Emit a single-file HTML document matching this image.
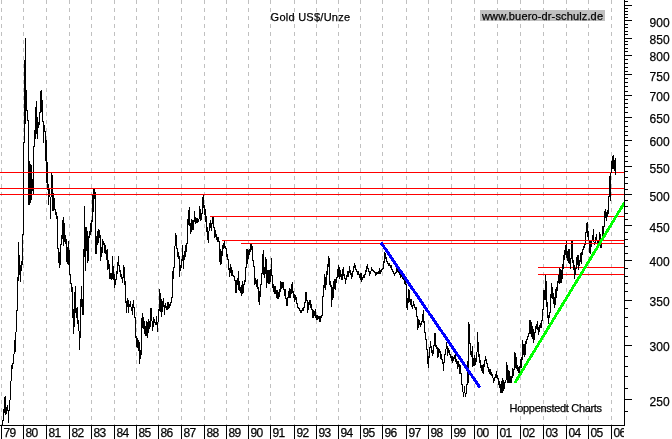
<!DOCTYPE html>
<html><head><meta charset="utf-8"><title>Gold US$/Unze</title>
<style>
html,body{margin:0;padding:0;background:#fff;}
body{width:672px;height:439px;overflow:hidden;position:relative;font-family:"Liberation Sans",sans-serif;}
svg{position:absolute;left:0;top:0;}
text{font-family:"Liberation Sans",sans-serif;font-size:12px;fill:#000;stroke:#000;stroke-width:0.25px;}
</style></head><body>
<svg width="672" height="439" viewBox="0 0 672 439">
<rect width="672" height="439" fill="#fff"/>
<path d="M1.5 0V425M23.5 0V425M46.5 0V425M69.5 0V425M91.5 0V425M114.5 0V425M136.5 0V425M158.5 0V425M181.5 0V425M204.5 0V425M226.5 0V425M248.5 0V425M270.5 0V425M294.5 0V425M316.5 0V425M338.5 0V425M360.5 0V425M382.5 0V425M406.5 0V425M428.5 0V425M451.5 0V425M474.5 0V425M497.5 0V425M520.5 0V425M543.5 0V425M566.5 0V425M588.5 0V425M611.5 0V425" stroke="#c0c0c0" stroke-width="1" stroke-dasharray="4 4" fill="none" shape-rendering="crispEdges"/>
<path d="M538 267.5H624M538 274.5H624" stroke="#ff0000" stroke-width="1" fill="none" shape-rendering="crispEdges"/>
<path d="M2.5 420V425M3.5 409V421M4.5 397V413M5.5 396V415M6.5 407V414M7.5 405V411M8.5 410V423M9.5 400V411M10.5 381V400M11.5 365V381M12.5 363V369M13.5 354V364M14.5 340V354M15.5 332V352M16.5 310V332M17.5 277V311M18.5 242V281M19.5 255V275M20.5 265V282M21.5 261V271M22.5 234V265M23.5 142V235M24.5 60V143M25.5 38V124M26.5 90V111M27.5 110V121M28.5 120V205M29.5 161V205M30.5 164V203M31.5 165V200M32.5 179V191M33.5 146V194M34.5 130V147M35.5 107V139M36.5 101V134M37.5 117V139M38.5 122V128M39.5 112V125M40.5 91V113M41.5 90V112M42.5 100V122M43.5 121V143M44.5 125V132M45.5 131V161M46.5 140V183M47.5 162V190M48.5 184V205M49.5 188V197M50.5 197V219M51.5 173V197M52.5 175V211M53.5 193V211M54.5 198V210M55.5 209V215M56.5 212V219M57.5 216V249M58.5 248V263M59.5 252V268M60.5 244V265M61.5 235V245M62.5 220V239M63.5 217V246M64.5 223V242M65.5 235V244M66.5 239V262M67.5 247V264M68.5 241V265M69.5 250V275M70.5 274V284M71.5 283V292M72.5 287V318M73.5 309V334M74.5 292V327M75.5 286V313M76.5 308V318M77.5 307V324M78.5 320V331M79.5 331V350M80.5 299V338M81.5 286V307M82.5 299V315M83.5 249V315M84.5 206V257M85.5 227V271M86.5 227V251M87.5 231V263M88.5 236V261M89.5 231V238M90.5 223V235M91.5 220V232M92.5 195V222M93.5 189V212M94.5 189V199M95.5 192V254M96.5 236V254M97.5 231V245M98.5 229V243M99.5 230V238M100.5 235V261M101.5 247V257M102.5 239V253M103.5 241V245M104.5 243V253M105.5 245V254M106.5 250V260M107.5 249V270M108.5 260V269M109.5 264V279M110.5 273V279M111.5 273V280M112.5 256V279M113.5 266V280M114.5 274V288M115.5 279V285M116.5 271V280M117.5 262V274M118.5 256V266M119.5 265V272M120.5 270V277M121.5 274V279M122.5 277V283M123.5 265V278M124.5 267V285M125.5 281V303M126.5 301V313M127.5 298V307M128.5 300V313M129.5 304V307M130.5 301V307M131.5 307V311M132.5 304V315M133.5 300V308M134.5 307V318M135.5 317V338M136.5 336V347M137.5 338V348M138.5 340V351M139.5 342V364M140.5 350V359M141.5 318V355M142.5 313V328M143.5 317V329M144.5 321V334M145.5 326V336M146.5 321V336M147.5 322V338M148.5 319V333M149.5 321V329M150.5 308V327M151.5 308V321M152.5 321V331M153.5 317V327M154.5 319V323M155.5 322V325M156.5 316V325M157.5 322V332M158.5 309V322M159.5 289V311M160.5 293V312M161.5 299V317M162.5 301V312M163.5 298V307M164.5 305V315M165.5 303V308M166.5 306V310M167.5 302V310M168.5 302V309M169.5 304V308M170.5 302V306M171.5 297V303M172.5 271V298M173.5 267V279M174.5 246V268M175.5 233V246M176.5 235V249M177.5 248V257M178.5 252V259M179.5 256V277M180.5 265V271M181.5 259V268M182.5 245V261M183.5 255V269M184.5 251V260M185.5 245V257M186.5 243V252M187.5 219V244M188.5 210V225M189.5 207V226M190.5 223V234M191.5 219V232M192.5 220V230M193.5 220V230M194.5 211V222M195.5 217V224M196.5 218V223M197.5 218V223M198.5 219V222M199.5 206V219M200.5 209V221M201.5 213V220M202.5 197V214M203.5 195V208M204.5 205V215M205.5 209V222M206.5 216V232M207.5 227V240M208.5 231V243M209.5 223V231M210.5 220V228M211.5 223V231M212.5 217V224M213.5 217V228M214.5 227V238M215.5 230V237M216.5 234V240M217.5 237V242M218.5 237V242M219.5 241V262M220.5 249V265M221.5 251V264M222.5 245V256M223.5 243V249M224.5 241V248M225.5 246V249M226.5 248V257M227.5 254V260M228.5 259V270M229.5 268V277M230.5 264V273M231.5 267V276M232.5 270V276M233.5 275V277M234.5 276V281M235.5 280V293M236.5 280V293M237.5 278V285M238.5 271V290M239.5 281V291M240.5 287V293M241.5 285V296M242.5 281V294M243.5 284V293M244.5 280V285M245.5 267V282M246.5 249V268M247.5 249V264M248.5 250V259M249.5 249V255M250.5 244V252M251.5 244V250M252.5 246V261M253.5 260V267M254.5 266V285M255.5 278V284M256.5 280V287M257.5 279V289M258.5 287V302M259.5 291V305M260.5 284V297M261.5 273V285M262.5 254V274M263.5 250V275M264.5 267V278M265.5 257V274M266.5 259V288M267.5 270V283M268.5 270V284M269.5 270V284M270.5 269V282M271.5 258V276M272.5 275V288M273.5 284V292M274.5 286V294M275.5 286V294M276.5 290V298M277.5 290V299M278.5 292V299M279.5 289V297M280.5 281V292M281.5 282V289M282.5 282V288M283.5 282V290M284.5 289V296M285.5 289V299M286.5 298V306M287.5 297V306M288.5 291V298M289.5 288V298M290.5 289V298M291.5 284V294M292.5 282V293M293.5 291V298M294.5 294V302M295.5 295V300M296.5 297V304M297.5 303V308M298.5 307V309M299.5 308V311M300.5 310V313M301.5 310V313M302.5 308V311M303.5 307V311M304.5 302V308M305.5 292V303M306.5 292V301M307.5 300V313M308.5 302V310M309.5 300V305M310.5 300V308M311.5 304V310M312.5 309V318M313.5 310V318M314.5 311V316M315.5 309V318M316.5 315V320M317.5 315V320M318.5 316V319M319.5 316V322M320.5 316V322M321.5 315V318M322.5 296V316M323.5 285V297M324.5 274V288M325.5 277V290M326.5 271V285M327.5 264V275M328.5 256V267M329.5 258V285M330.5 281V287M331.5 285V307M332.5 287V300M333.5 281V298M334.5 279V289M335.5 279V290M336.5 277V283M337.5 269V278M338.5 265V277M339.5 267V279M340.5 270V277M341.5 274V280M342.5 269V280M343.5 267V276M344.5 274V279M345.5 278V284M346.5 275V280M347.5 271V277M348.5 271V277M349.5 266V273M350.5 270V275M351.5 273V279M352.5 271V277M353.5 266V272M354.5 263V268M355.5 265V270M356.5 269V272M357.5 271V275M358.5 271V275M359.5 274V278M360.5 273V280M361.5 273V282M362.5 277V280M363.5 275V278M364.5 274V278M365.5 270V275M366.5 266V272M367.5 264V269M368.5 268V272M369.5 271V276M370.5 271V274M371.5 267V271M372.5 269V271M373.5 270V272M374.5 271V273M375.5 272V276M376.5 272V275M377.5 272V274M378.5 271V274M379.5 268V274M380.5 270V274M381.5 269V272M382.5 268V270M383.5 261V269M384.5 252V263M385.5 253V259M386.5 257V262M387.5 261V264M388.5 263V266M389.5 263V266M390.5 265V268M391.5 265V270M392.5 269V272M393.5 271V274M394.5 273V276M395.5 272V274M396.5 268V273M397.5 269V272M398.5 271V273M399.5 272V275M400.5 274V278M401.5 273V277M402.5 275V279M403.5 275V280M404.5 279V284M405.5 281V285M406.5 284V308M407.5 298V310M408.5 289V303M409.5 290V302M410.5 299V305M411.5 299V307M412.5 305V309M413.5 301V306M414.5 304V308M415.5 307V310M416.5 307V317M417.5 316V330M418.5 319V328M419.5 320V325M420.5 323V327M421.5 321V325M422.5 314V322M423.5 310V323M424.5 321V333M425.5 332V340M426.5 339V350M427.5 349V364M428.5 356V368M429.5 347V358M430.5 341V348M431.5 346V353M432.5 350V356M433.5 345V354M434.5 333V346M435.5 333V347M436.5 345V349M437.5 347V358M438.5 348V357M439.5 349V353M440.5 351V359M441.5 354V360M442.5 359V364M443.5 362V371M444.5 354V363M445.5 349V355M446.5 342V349M447.5 346V356M448.5 348V353M449.5 350V355M450.5 354V358M451.5 356V361M452.5 356V363M453.5 357V361M454.5 355V359M455.5 354V362M456.5 359V364M457.5 361V369M458.5 361V367M459.5 364V374M460.5 365V374M461.5 373V385M462.5 384V392M463.5 392V397M464.5 386V393M465.5 393V397M466.5 384V394M467.5 361V385M468.5 322V383M469.5 324V344M470.5 343V355M471.5 351V357M472.5 346V367M473.5 358V366M474.5 355V366M475.5 358V365M476.5 352V362M477.5 332V352M478.5 342V357M479.5 354V363M480.5 360V368M481.5 365V371M482.5 365V373M483.5 364V374M484.5 360V367M485.5 356V361M486.5 359V364M487.5 363V368M488.5 367V372M489.5 369V374M490.5 369V375M491.5 372V376M492.5 374V378M493.5 378V383M494.5 377V381M495.5 374V378M496.5 371V378M497.5 375V379M498.5 378V385M499.5 381V388M500.5 384V393M501.5 381V393M502.5 378V393M503.5 380V391M504.5 382V389M505.5 380V383M506.5 362V380M507.5 365V383M508.5 370V383M509.5 371V383M510.5 376V383M511.5 376V383M512.5 368V378M513.5 369V376M514.5 352V370M515.5 353V368M516.5 357V369M517.5 365V371M518.5 367V373M519.5 366V373M520.5 359V368M521.5 357V368M522.5 340V360M523.5 344V355M524.5 344V357M525.5 341V355M526.5 339V344M527.5 336V340M528.5 333V337M529.5 320V334M530.5 320V334M531.5 322V337M532.5 326V339M533.5 329V343M534.5 332V340M535.5 326V333M536.5 324V329M537.5 321V330M538.5 327V335M539.5 325V332M540.5 323V328M541.5 320V328M542.5 309V321M543.5 290V310M544.5 290V300M545.5 275V300M546.5 281V307M547.5 302V318M548.5 315V324M549.5 312V318M550.5 294V313M551.5 283V298M552.5 287V299M553.5 293V304M554.5 297V308M555.5 289V305M556.5 287V298M557.5 281V291M558.5 275V283M559.5 268V284M560.5 269V283M561.5 270V283M562.5 264V279M563.5 255V269M564.5 250V260M565.5 245V255M566.5 241V258M567.5 251V261M568.5 249V263M569.5 249V264M570.5 258V269M571.5 241V259M572.5 240V263M573.5 260V270M574.5 265V279M575.5 268V275M576.5 257V269M577.5 255V265M578.5 255V270M579.5 260V266M580.5 253V262M581.5 252V264M582.5 249V255M583.5 246V250M584.5 244V248M585.5 232V245M586.5 223V233M587.5 222V237M588.5 231V241M589.5 240V253M590.5 240V254M591.5 240V247M592.5 235V241M593.5 229V242M594.5 242V245M595.5 237V243M596.5 234V240M597.5 240V244M598.5 240V245M599.5 232V240M600.5 234V248M601.5 240V248M602.5 226V241" stroke="#000" stroke-width="1" fill="none" shape-rendering="crispEdges"/>
<path d="M0 172.5H624M0 188.5H624M0 194.5H624M210 216.5H624M222 240.5H624M241 243.5H624" stroke="#ff0000" stroke-width="1" fill="none" shape-rendering="crispEdges"/>
<path d="M603.5 226V234M604.5 211V227M605.5 209V218M606.5 212V221M607.5 210V217M608.5 196V214M609.5 176V197M610.5 173V201M611.5 161V173M612.5 156V169M613.5 155V169M614.5 160V171M615.5 158V175" stroke="#000" stroke-width="1" fill="none" shape-rendering="crispEdges"/>
<svg x="0" y="0" width="624" height="425" viewBox="0 0 624 425">
<path d="M381.0 242.6L480 387.7" stroke="#0000ff" stroke-width="3.0" fill="none" shape-rendering="crispEdges"/>
<path d="M514.8 383L626.2 199.8" stroke="#00ff00" stroke-width="2.8" fill="none" shape-rendering="crispEdges"/>
</svg>
<rect x="480" y="10" width="125" height="11" fill="#c0c0c0"/>
<path d="M624.5 0V426M0 425.5H625M1.5 425V439M23.5 425V439M46.5 425V439M69.5 425V439M91.5 425V439M114.5 425V439M136.5 425V439M158.5 425V439M181.5 425V439M204.5 425V439M226.5 425V439M248.5 425V439M270.5 425V439M294.5 425V439M316.5 425V439M338.5 425V439M360.5 425V439M382.5 425V439M406.5 425V439M428.5 425V439M451.5 425V439M474.5 425V439M497.5 425V439M520.5 425V439M543.5 425V439M566.5 425V439M588.5 425V439M611.5 425V439M625 5.5h7M625 8.5h3M625 11.5h3M625 14.5h3M625 17.5h3M625 20.5h7M625 24.5h3M625 27.5h3M625 31.5h3M625 34.5h3M625 38.5h7M625 41.5h3M625 44.5h3M625 48.5h3M625 51.5h3M625 55.5h7M625 59.5h3M625 63.5h3M625 67.5h3M625 71.5h3M625 74.5h7M625 78.5h3M625 82.5h3M625 86.5h3M625 91.5h3M625 95.5h7M625 99.5h3M625 103.5h3M625 107.5h3M625 112.5h3M625 117.5h7M625 121.5h3M625 126.5h3M625 131.5h3M625 135.5h3M625 140.5h7M625 145.5h3M625 151.5h3M625 156.5h3M625 161.5h3M625 166.5h7M625 171.5h3M625 177.5h3M625 183.5h3M625 189.5h3M625 194.5h7M625 200.5h3M625 206.5h3M625 213.5h3M625 219.5h3M625 225.5h7M625 232.5h3M625 239.5h3M625 246.5h3M625 253.5h3M625 260.5h7M625 268.5h3M625 276.5h3M625 283.5h3M625 291.5h3M625 300.5h7M625 308.5h3M625 317.5h3M625 326.5h3M625 336.5h3M625 345.5h7M625 356.5h3M625 366.5h3M625 376.5h3M625 388.5h3M625 399.5h7M625 411.5h3M625 1.5h3" stroke="#000" stroke-width="1" fill="none" shape-rendering="crispEdges"/>
<g style="opacity:0.999">
<svg x="0" y="426" width="624" height="13" viewBox="0 426 624 13"><text x="3.4" y="437" textLength="12.9" lengthAdjust="spacing">79</text><text x="25.4" y="437" textLength="12.9" lengthAdjust="spacing">80</text><text x="48.4" y="437" textLength="12.9" lengthAdjust="spacing">81</text><text x="71.4" y="437" textLength="12.9" lengthAdjust="spacing">82</text><text x="93.4" y="437" textLength="12.9" lengthAdjust="spacing">83</text><text x="116.4" y="437" textLength="12.9" lengthAdjust="spacing">84</text><text x="138.4" y="437" textLength="12.9" lengthAdjust="spacing">85</text><text x="160.4" y="437" textLength="12.9" lengthAdjust="spacing">86</text><text x="183.4" y="437" textLength="12.9" lengthAdjust="spacing">87</text><text x="206.4" y="437" textLength="12.9" lengthAdjust="spacing">88</text><text x="228.4" y="437" textLength="12.9" lengthAdjust="spacing">89</text><text x="250.4" y="437" textLength="12.9" lengthAdjust="spacing">90</text><text x="272.4" y="437" textLength="12.9" lengthAdjust="spacing">91</text><text x="296.4" y="437" textLength="12.9" lengthAdjust="spacing">92</text><text x="318.4" y="437" textLength="12.9" lengthAdjust="spacing">93</text><text x="340.4" y="437" textLength="12.9" lengthAdjust="spacing">94</text><text x="362.4" y="437" textLength="12.9" lengthAdjust="spacing">95</text><text x="384.4" y="437" textLength="12.9" lengthAdjust="spacing">96</text><text x="408.4" y="437" textLength="12.9" lengthAdjust="spacing">97</text><text x="430.4" y="437" textLength="12.9" lengthAdjust="spacing">98</text><text x="453.4" y="437" textLength="12.9" lengthAdjust="spacing">99</text><text x="476.4" y="437" textLength="12.9" lengthAdjust="spacing">00</text><text x="499.4" y="437" textLength="12.9" lengthAdjust="spacing">01</text><text x="522.4" y="437" textLength="12.9" lengthAdjust="spacing">02</text><text x="545.4" y="437" textLength="12.9" lengthAdjust="spacing">03</text><text x="568.4" y="437" textLength="12.9" lengthAdjust="spacing">04</text><text x="590.4" y="437" textLength="12.9" lengthAdjust="spacing">05</text><text x="613.4" y="437" textLength="12.9" lengthAdjust="spacing">06</text></svg>
<text x="649.6" y="26.8">900</text><text x="649.6" y="43.8">850</text><text x="649.6" y="60.8">800</text><text x="649.6" y="80.8">750</text><text x="649.6" y="100.8">700</text><text x="649.6" y="122.8">650</text><text x="649.6" y="145.8">600</text><text x="649.6" y="172.8">550</text><text x="649.6" y="200.8">500</text><text x="649.6" y="231.8">450</text><text x="649.6" y="265.8">400</text><text x="649.6" y="305.8">350</text><text x="649.6" y="350.8">300</text><text x="649.6" y="405.8">250</text>
<text x="270.6" y="21.0" style="font-size:11px" textLength="79.5" lengthAdjust="spacing">Gold US$/Unze</text>
<text x="482" y="19.6" style="font-size:11px" textLength="121" lengthAdjust="spacing">www.buero-dr-schulz.de</text>
<text x="509.6" y="411.8" style="font-size:11px" textLength="92.5" lengthAdjust="spacing">Hoppenstedt Charts</text>
</g>
</svg>
</body></html>
